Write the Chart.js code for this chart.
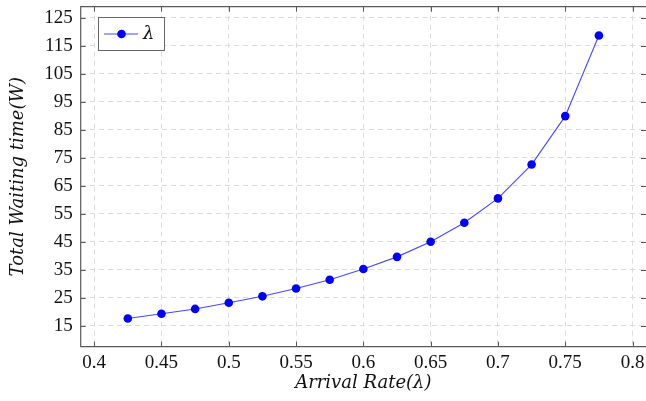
<!DOCTYPE html>
<html>
<head>
<meta charset="utf-8">
<script src="https://cdn.jsdelivr.net/npm/chart.js@4/dist/chart.umd.min.js"></script>
<style>
  html, body { margin: 0; padding: 0; background: #ffffff; }
  #wrap { width: 646px; height: 401px; position: relative; }
</style>
</head>
<body>
<div id="wrap"><canvas id="c" width="646" height="401"></canvas></div>
<script>
const arrivalRate = [0.425, 0.45, 0.475, 0.5, 0.525, 0.55, 0.575, 0.6, 0.625, 0.65, 0.675, 0.7, 0.725, 0.75, 0.775];
const waitingTime = [17.6, 19.3, 21.0, 23.2, 25.5, 28.3, 31.4, 35.25, 39.6, 45.0, 51.8, 60.5, 72.6, 89.9, 118.7];
const xTickValues = [0.4, 0.45, 0.5, 0.55, 0.6, 0.65, 0.7, 0.75, 0.8];
const xTickLabels = ['0.4', '0.45', '0.5', '0.55', '0.6', '0.65', '0.7', '0.75', '0.8'];
const yTickValues = [15, 25, 35, 45, 55, 65, 75, 85, 95, 105, 115, 125];
const seriesLabel = 'λ';
const xTitle = 'Arrival Rate(λ)';
const yTitle = 'Total Waiting time(W)';

const SERIF = '"Liberation Serif", "DejaVu Serif", serif';
const TITLE_SERIF = '"DejaVu Serif", "Liberation Serif", serif';
const FRAME = '#5a5a5a';

const framePlugin = {
  id: 'frame',
  afterDraw(chart) {
    const ctx = chart.ctx;
    const a = chart.chartArea;
    const xs = chart.scales.x, ys = chart.scales.y;
    ctx.save();
    ctx.strokeStyle = FRAME;
    ctx.lineWidth = 1;
    ctx.beginPath();
    xTickValues.forEach(v => {
      const px = Math.round(xs.getPixelForValue(v)) + 0.5;
      ctx.moveTo(px, a.bottom); ctx.lineTo(px, a.bottom - 5);
      ctx.moveTo(px, a.top); ctx.lineTo(px, a.top + 5);
    });
    yTickValues.forEach(v => {
      const py = Math.round(ys.getPixelForValue(v)) + 0.5;
      ctx.moveTo(a.left, py); ctx.lineTo(a.left + 5, py);
      ctx.moveTo(a.right, py); ctx.lineTo(a.right - 5, py);
    });
    ctx.stroke();
    ctx.lineWidth = 1.2;
    ctx.beginPath();
    ctx.moveTo(a.right + 1, a.top);
    ctx.lineTo(a.left, a.top);
    ctx.lineTo(a.left, a.bottom);
    ctx.lineTo(a.right + 1, a.bottom);
    ctx.stroke();
    // legend
    const lx = 98, ly = 17, lw = 66, lh = 33;
    ctx.fillStyle = '#ffffff';
    ctx.fillRect(lx, ly, lw, lh);
    ctx.lineWidth = 1;
    ctx.strokeStyle = '#666666';
    ctx.strokeRect(lx + 0.5, ly + 0.5, lw, lh);
    const cy = ly + lh / 2 + 0.5;
    ctx.strokeStyle = 'rgba(40,40,255,0.85)';
    ctx.lineWidth = 1.1;
    ctx.beginPath(); ctx.moveTo(104, cy); ctx.lineTo(138, cy); ctx.stroke();
    ctx.fillStyle = '#0000ff';
    ctx.beginPath(); ctx.arc(121.5, cy, 4.3, 0, Math.PI * 2); ctx.fill();
    ctx.fillStyle = '#111111';
    ctx.font = 'italic 18px ' + TITLE_SERIF;
    ctx.textBaseline = 'middle';
    ctx.textAlign = 'left';
    ctx.fillText(seriesLabel, 143, cy);
    ctx.restore();
  }
};

new Chart(document.getElementById('c'), {
  type: 'line',
  data: {
    datasets: [{
      label: seriesLabel,
      data: arrivalRate.map((x, i) => ({ x: x, y: waitingTime[i] })),
      borderColor: 'rgba(40,40,255,0.85)',
      borderWidth: 1.1,
      pointBackgroundColor: '#0000ff',
      pointBorderColor: '#0000ff',
      pointBorderWidth: 0,
      pointRadius: 4.3,
      tension: 0,
      fill: false
    }]
  },
  options: {
    responsive: false,
    animation: false,
    devicePixelRatio: 1,
    layout: { autoPadding: false, padding: { top: 6.7, right: 0, bottom: 0, left: 0 } },
    plugins: { legend: { display: false }, tooltip: { enabled: false } },
    scales: {
      x: {
        type: 'linear',
        min: 0.39,
        max: 0.81,
        afterBuildTicks(s) { s.ticks = xTickValues.map(v => ({ value: v })); },
        afterFit(s) { s.height = 54.3; s.paddingLeft = 0; s.paddingRight = 0; },
        ticks: {
          padding: 5,
          color: '#111111',
          font: { family: SERIF, size: 19 },
          maxRotation: 0,
          autoSkip: false,
          callback: (v) => { const i = xTickValues.indexOf(v); return i >= 0 ? xTickLabels[i] : ''; }
        },
        grid: { color: '#dcdcdc', lineWidth: 1, drawTicks: false },
        border: { display: false, dash: [5, 4] },
        title: {
          display: true,
          text: xTitle,
          color: '#111111',
          font: { family: TITLE_SERIF, size: 18, style: 'italic' },
          padding: 6.5
        }
      },
      y: {
        type: 'linear',
        min: 7.5,
        max: 129,
        afterBuildTicks(s) { s.ticks = yTickValues.map(v => ({ value: v })); },
        afterFit(s) { s.width = 80.7; s.paddingTop = 0; s.paddingBottom = 0; },
        ticks: {
          padding: 8,
          color: '#111111',
          font: { family: SERIF, size: 19 },
          autoSkip: false,
          callback: (v) => String(v)
        },
        grid: { color: '#dcdcdc', lineWidth: 1, drawTicks: false },
        border: { display: false, dash: [5, 4] },
        title: {
          display: true,
          text: yTitle,
          color: '#111111',
          font: { family: TITLE_SERIF, size: 18, style: 'italic' },
          padding: 7.5
        }
      }
    }
  },
  plugins: [framePlugin]
});
</script>
</body>
</html>
